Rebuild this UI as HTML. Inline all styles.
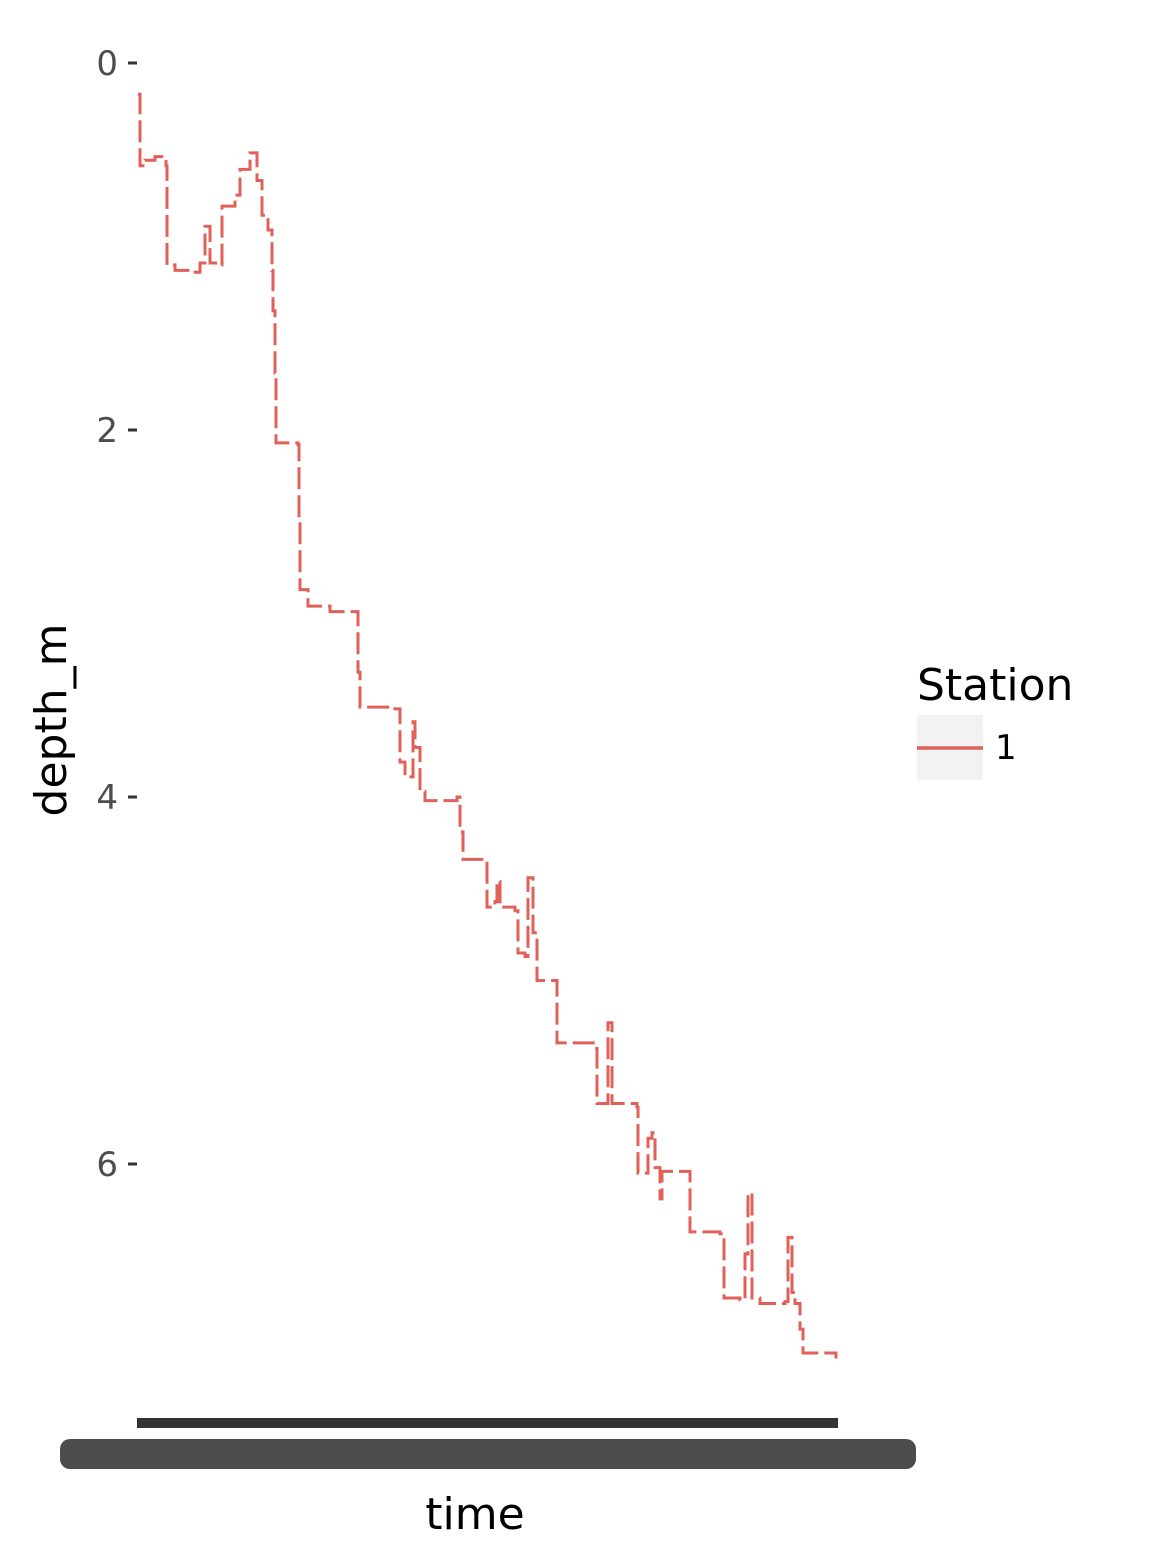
<!DOCTYPE html>
<html><head><meta charset="utf-8"><style>
html,body{margin:0;padding:0;background:#fff;}
svg{display:block;font-family:"DejaVu Sans","Liberation Sans",sans-serif;}
</style></head><body>
<svg id="chart" width="1160" height="1568" viewBox="0 0 1160 1568">
<g id="yaxis"></g>
<g id="series"></g>
<rect x="137" y="1418" width="701" height="10" fill="#333"/>
<rect x="60" y="1439" width="856" height="30" rx="10" fill="#4d4d4d"/>
<text x="475" y="1529" font-size="44" text-anchor="middle" fill="#000">time</text>
<text transform="translate(66,720) rotate(-90)" font-size="44" text-anchor="middle" fill="#000">depth_m</text>
<g>
<text x="917" y="700" font-size="44" fill="#000">Station</text>
<rect x="917" y="715" width="66" height="65" fill="#f2f2f2"/>
<line x1="917" y1="748" x2="983" y2="748" stroke="#e0605a" stroke-width="3.5"/>
<text x="995" y="759" font-size="34" fill="#000">1</text>
</g>
</svg>
<script>
const times=[0,2,7,17,28,29,37,52,62,67,72,82,84,97,102,112,119,124,130,134,135,137,138,160,161,162,170,192,218,220,222,257,262,267,275,277,282,287,319,322,325,347,349,357,359,362,377,380,387,390,395,399,417,419,432,457,459,467,470,474,499,500,510,514,517,522,524,550,552,582,586,602,607,610,614,622,647,650,654,657,662,665,698];
const depths=[0.17,0.56,0.53,0.51,0.56,1.10,1.13,1.14,1.09,0.89,1.09,1.10,0.78,0.72,0.58,0.49,0.64,0.83,0.91,1.13,1.35,1.69,2.07,2.08,2.50,2.87,2.96,2.99,2.99,3.32,3.51,3.52,3.81,3.89,3.59,3.73,3.97,4.02,4.00,4.19,4.34,4.34,4.60,4.57,4.46,4.60,4.62,4.85,4.87,4.44,4.74,5.00,5.00,5.34,5.34,5.37,5.67,5.67,5.23,5.67,5.69,6.05,5.86,5.83,6.02,6.19,6.04,6.04,6.37,6.38,6.73,6.74,6.49,6.16,6.73,6.76,6.75,6.40,6.70,6.76,6.90,7.03,7.06];
const yTicks=[0,2,4,6];
const NS="http://www.w3.org/2000/svg";
const tMax=698;
function xs(t){return 138+t/tMax*(836-138);}
function ys(d){return 63+d*183.5;}
const ya=document.getElementById('yaxis');
yTicks.forEach(v=>{
  const l=document.createElementNS(NS,'line');
  l.setAttribute('x1',128);l.setAttribute('x2',137);
  l.setAttribute('y1',ys(v));l.setAttribute('y2',ys(v));
  l.setAttribute('stroke','#333');l.setAttribute('stroke-width',3);
  
  
  ya.appendChild(l);
  const t=document.createElementNS(NS,'text');
  t.setAttribute('x',118);t.setAttribute('y',ys(v)+12);
  t.setAttribute('text-anchor','end');t.setAttribute('font-size',34);
  t.setAttribute('fill','#4d4d4d');t.textContent=v;
  
  
  ya.appendChild(t);
});
let d='M'+xs(times[0])+','+ys(depths[0]);
for(let i=1;i<times.length;i++){
  d+=' H'+xs(times[i])+' V'+ys(depths[i]);
}
const p=document.createElementNS(NS,'path');
p.setAttribute('d',d);p.setAttribute('fill','none');
p.setAttribute('stroke','#e0605a');p.setAttribute('stroke-width',3);
p.setAttribute('stroke-dasharray','22 6');


document.getElementById('series').appendChild(p);
</script>
</body></html>
